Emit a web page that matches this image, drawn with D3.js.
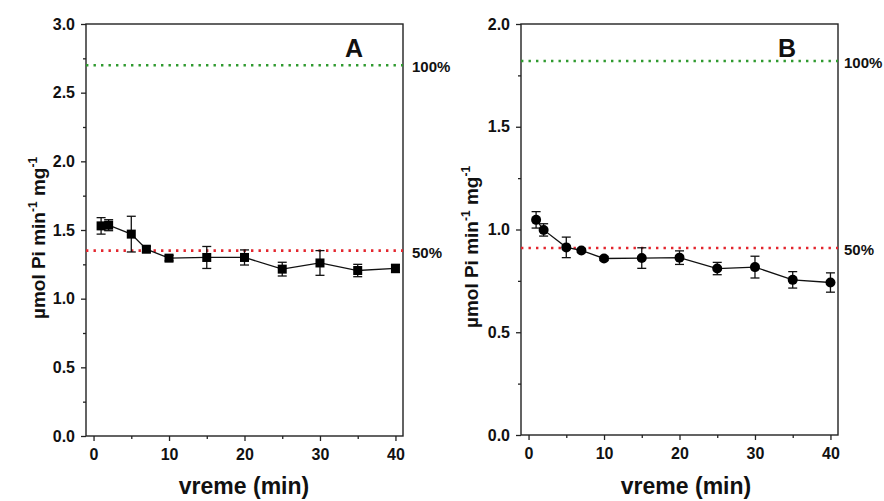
<!DOCTYPE html>
<html><head><meta charset="utf-8">
<script src="https://cdn.jsdelivr.net/npm/d3@7"></script>
<style>body{margin:0;background:#fff}svg{display:block}text{font-family:Arial,"Liberation Sans",sans-serif;font-weight:bold;fill:#111}</style>
</head><body><svg id="c" width="884" height="501"></svg>
<script>
const times = [1, 2, 5, 7, 10, 15, 20, 25, 30, 35, 40];
const valuesA = [1.53, 1.535, 1.47, 1.36, 1.295, 1.30, 1.30, 1.215, 1.26, 1.205, 1.22];
const errorsA = [0.06, 0.04, 0.13, 0.02, 0.02, 0.08, 0.055, 0.05, 0.09, 0.045, 0.03];
const valuesB = [1.047, 0.998, 0.913, 0.898, 0.859, 0.861, 0.863, 0.81, 0.817, 0.755, 0.742];
const errorsB = [0.04, 0.03, 0.05, 0.01, 0.01, 0.05, 0.033, 0.03, 0.053, 0.04, 0.047];
const refA = [2.70, 1.35];
const refB = [1.82, 0.91];
const refLabels = ["100%", "50%"];
const xTicks = [0, 10, 20, 30, 40];
const xMinor = [5, 15, 25, 35];
const yTicksA = [0, 0.5, 1.0, 1.5, 2.0, 2.5, 3.0];
const yMinorA = [0.25, 0.75, 1.25, 1.75, 2.25, 2.75];
const yTicksB = [0, 0.5, 1.0, 1.5, 2.0];
const yMinorB = [0.25, 0.75, 1.25, 1.75];

const svg = d3.select("#c");

function panel(o) {
  const x = d3.scaleLinear().domain([-1, 41]).range([o.left, o.right]);
  const y = d3.scaleLinear().domain([0, o.ymax]).range([o.bottom, o.top]);
  const g = svg.append("g");
  g.append("rect").attr("x", o.left).attr("y", o.top).attr("width", o.right - o.left)
    .attr("height", o.bottom - o.top).attr("fill", "none").attr("stroke", "#222").attr("stroke-width", 1.4);
  const xa = g.append("g").attr("transform", `translate(0,${o.bottom})`)
    .call(d3.axisBottom(x).tickValues(xTicks).tickSize(5).tickPadding(8).tickFormat(d3.format("d")));
  const xm = g.append("g").attr("transform", `translate(0,${o.bottom})`)
    .call(d3.axisBottom(x).tickValues(xMinor).tickSize(3).tickFormat(""));
  const ya = g.append("g").attr("transform", `translate(${o.left},0)`)
    .call(d3.axisLeft(y).tickValues(o.yTicks).tickSize(5).tickPadding(6).tickFormat(d3.format(".1f")));
  const ym = g.append("g").attr("transform", `translate(${o.left},0)`)
    .call(d3.axisLeft(y).tickValues(o.yMinor).tickSize(3).tickFormat(""));
  [xa, xm, ya, ym].forEach(a => {
    a.select(".domain").remove();
    a.selectAll("line").attr("stroke", "#222").attr("stroke-width", 1.3);
    a.selectAll("text").style("font-size", "16px").style("font-weight", "bold").attr("fill", "#111")
      .style("font-family", "Arial, 'Liberation Sans', sans-serif");
  });
  const colors = ["#2f9a2f", "#e3262e"];
  o.refs.forEach((v, i) => {
    g.append("line").attr("x1", o.left).attr("x2", o.right).attr("y1", y(v)).attr("y2", y(v))
      .attr("stroke", colors[i]).attr("stroke-width", 2.6).attr("stroke-dasharray", "2.4,5.1");
    g.append("text").attr("x", o.right + o.refGap).attr("y", y(v) + 7).style("font-size", "15px").text(refLabels[i]);
  });
  const pts = times.map((t, i) => ({ t, v: o.vals[i], e: o.errs[i] }));
  g.append("path").datum(pts).attr("fill", "none").attr("stroke", "#111").attr("stroke-width", 1.3)
    .attr("d", d3.line().x(d => x(d.t)).y(d => y(d.v)));
  const eb = g.append("g").attr("stroke", "#111").attr("stroke-width", 1.3);
  pts.forEach(d => {
    const cx = x(d.t), y1 = y(d.v + d.e), y2 = y(d.v - d.e);
    eb.append("line").attr("x1", cx).attr("x2", cx).attr("y1", y1).attr("y2", y2);
    eb.append("line").attr("x1", cx - 4.5).attr("x2", cx + 4.5).attr("y1", y1).attr("y2", y1);
    eb.append("line").attr("x1", cx - 4.5).attr("x2", cx + 4.5).attr("y1", y2).attr("y2", y2);
  });
  if (o.marker === "square") {
    g.selectAll("rect.m").data(pts).join("rect").attr("class", "m")
      .attr("x", d => x(d.t) - 4.5).attr("y", d => y(d.v) - 4.5).attr("width", 9).attr("height", 9).attr("fill", "#000");
  } else {
    g.selectAll("circle.m").data(pts).join("circle").attr("class", "m")
      .attr("cx", d => x(d.t)).attr("cy", d => y(d.v)).attr("r", 5).attr("fill", "#000");
  }
  g.append("text").attr("x", o.letterX).attr("y", 57).attr("text-anchor", "middle")
    .style("font-size", "25px").text(o.letter);
  g.append("text").attr("x", o.xTitleX).attr("y", 494).attr("text-anchor", "middle")
    .style("font-size", "23px").text("vreme (min)");
  const yt = g.append("text").attr("transform", `translate(${o.yTitleX},${o.yTitleY}) rotate(-90)`)
    .attr("text-anchor", "middle").style("font-size", "19px");
  yt.append("tspan").text("µmol Pi min");
  yt.append("tspan").attr("dy", -8).style("font-size", "12px").text("-1");
  yt.append("tspan").attr("dy", 8).text(" mg");
  yt.append("tspan").attr("dy", -8).style("font-size", "12px").text("-1");
}

panel({ left: 86, right: 403, top: 24, bottom: 436, ymax: 3.0, yTicks: yTicksA, yMinor: yMinorA,
  refs: refA, refGap: 9, vals: valuesA, errs: errorsA, marker: "square", letter: "A", letterX: 354,
  xTitleX: 244, yTitleX: 45, yTitleY: 238 });
panel({ left: 521, right: 838, top: 24, bottom: 435, ymax: 2.0, yTicks: yTicksB, yMinor: yMinorB,
  refs: refB, refGap: 6, vals: valuesB, errs: errorsB, marker: "circle", letter: "B", letterX: 787,
  xTitleX: 686, yTitleX: 478, yTitleY: 247 });
</script></body></html>
